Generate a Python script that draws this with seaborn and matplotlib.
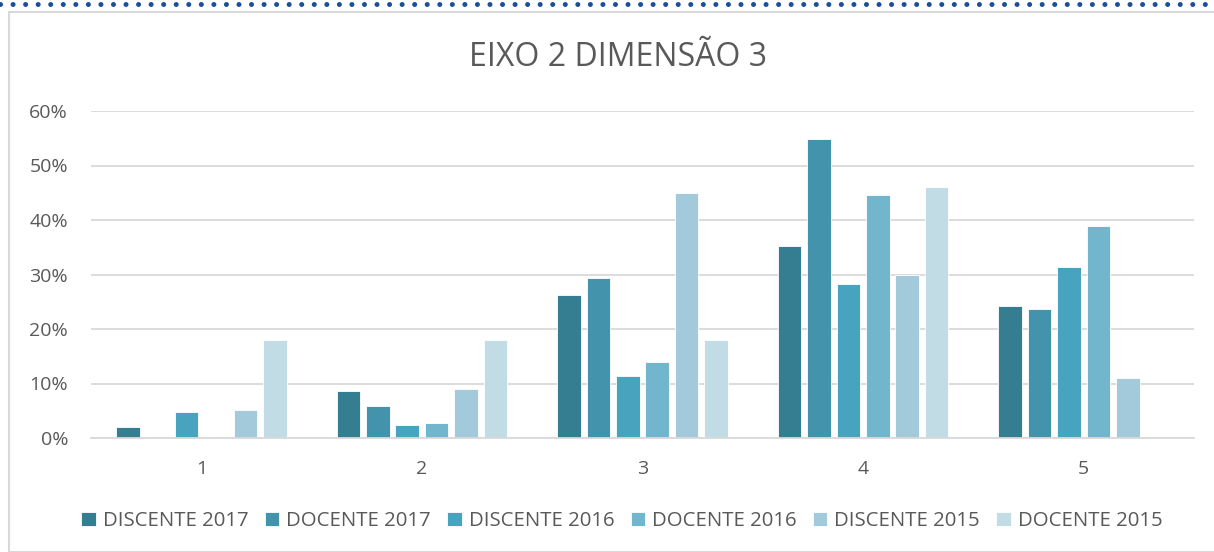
import pandas as pd
import matplotlib
matplotlib.use('Agg')
import matplotlib.pyplot as plt
from matplotlib.lines import Line2D
from matplotlib.patches import Rectangle
from matplotlib.ticker import PercentFormatter
import seaborn as sns

# values, in percent
categories = ['1', '2', '3', '4', '5']
series = ['DISCENTE 2017', 'DOCENTE 2017', 'DISCENTE 2016',
          'DOCENTE 2016', 'DISCENTE 2015', 'DOCENTE 2015']
discente_2017 = [2.0, 8.6, 26.2, 35.3, 24.2]
docente_2017 = [0.0, 5.9, 29.4, 54.9, 23.6]
discente_2016 = [4.8, 2.4, 11.4, 28.3, 31.4]
docente_2016 = [0.0, 2.8, 13.9, 44.5, 38.9]
discente_2015 = [5.1, 9.0, 45.0, 30.0, 11.0]
docente_2015 = [18.0, 18.0, 18.0, 46.0, 0.0]
colors = ['#357D91', '#4293AB', '#48A4BE', '#71B6CD', '#A2CADB', '#C2DCE5']

# long form table for seaborn
rows = []
for name, vals in zip(series, [discente_2017, docente_2017, discente_2016,
                               docente_2016, discente_2015, docente_2015]):
    for cat, v in zip(categories, vals):
        rows.append({'cat': cat, 'serie': name, 'valor': v})
df = pd.DataFrame(rows)

sns.set_style('white')
plt.rcParams['font.family'] = ['Open Sans', 'DejaVu Sans']
text_color = '#595959'

fig = plt.figure(figsize=(12.14, 5.52), dpi=100)
ax = fig.add_axes([91 / 1214, 1 - 438 / 552, (1194 - 91) / 1214, (438 - 111) / 552])

sns.barplot(df, x='cat', y='valor', hue='serie', hue_order=series,
            palette=colors, saturation=1, order=categories, width=0.8, gap=0.2,
            edgecolor='white', linewidth=0.6, ax=ax)

ax.set_ylim(0, 60)
ax.set_yticks(range(0, 61, 10))
ax.yaxis.set_major_formatter(PercentFormatter(decimals=0))
ax.set_xlim(-0.5, 4.5)
ax.set_xlabel('')
ax.set_ylabel('')
ax.grid(axis='y', color='#D9D9D9', linewidth=1.3)
ax.set_axisbelow(True)
for s in ['top', 'right', 'left']:
    ax.spines[s].set_visible(False)
ax.spines['bottom'].set_color('#D9D9D9')
ax.spines['bottom'].set_linewidth(1.3)
ax.tick_params(axis='both', length=0, colors=text_color, labelsize=14)
ax.tick_params(axis='y', pad=16.5)
ax.tick_params(axis='x', pad=16)

fig.text(618 / 1214, 1 - 58 / 552, 'EIXO 2 DIMENSÃO 3', ha='center', va='center',
         fontsize=23, color=text_color)

# legend below the plot
handles, labels = ax.get_legend_handles_labels()
ax.legend_.remove()
leg = fig.legend(handles, labels, loc='center', bbox_to_anchor=(622 / 1214, 1 - 521 / 552),
                 ncol=6, frameon=False, fontsize=14.7, handlelength=0.7, handleheight=0.7,
                 handletextpad=0.35, columnspacing=0.8)
for t in leg.get_texts():
    t.set_color(text_color)

# chart frame and dotted page border
fig.add_artist(Rectangle((9 / 1214, 0), 1, 1 - 12 / 552, transform=fig.transFigure,
                         fill=False, edgecolor='#D9D9D9', linewidth=1.5))
fig.add_artist(Line2D([0, 1], [1 - 4 / 552, 1 - 4 / 552], transform=fig.transFigure,
                      color='#1B4F9C', linewidth=3.6, linestyle=(0, (0.01, 2.5)),
                      dash_capstyle='round'))

fig.savefig('out.png', dpi=100)
